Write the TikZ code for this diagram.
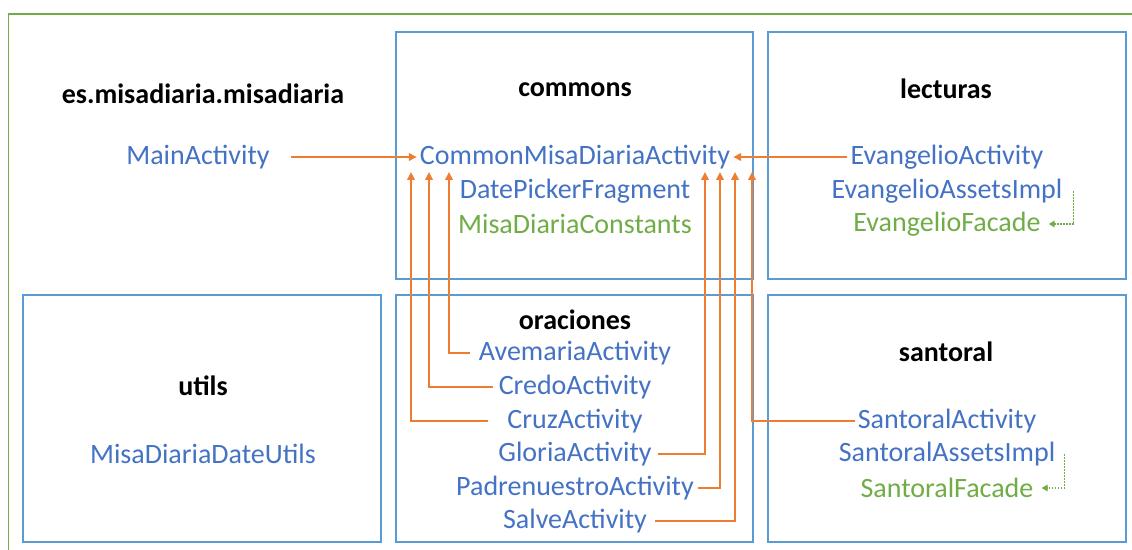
\documentclass[tikz,border=0pt]{standalone}
\usepackage{fontspec}
\setmainfont{Carlito}
\usetikzlibrary{arrows.meta}
\definecolor{tblue}{HTML}{4472C4}
\definecolor{bblue}{HTML}{5B9BD5}
\definecolor{tgreen}{HTML}{70AD47}
\definecolor{torange}{HTML}{ED7D31}
\begin{document}
\begin{tikzpicture}[x=1bp,y=-1bp,
  pkgbox/.style={draw=bblue,line width=1.6bp},
  frame/.style={draw=tgreen,line width=1.6bp},
  ttl/.style={font=\fontsize{28bp}{33bp}\selectfont\bfseries,text=black,inner sep=0pt},
  cls/.style={font=\fontsize{28bp}{33bp}\selectfont,text=tblue,inner sep=0pt},
  ifc/.style={font=\fontsize{28bp}{33bp}\selectfont,text=tgreen,inner sep=0pt},
  dep/.style={draw=torange,line width=2.2bp,-{Triangle[length=8bp,width=7.5bp]}},
  impl/.style={draw=tgreen,line width=1.8bp,dash pattern=on 1.6bp off 1.4bp,-{Triangle[length=6bp,width=6.5bp]}}]
\useasboundingbox (0,0) rectangle (1132,550);
\fill[white] (0,0) rectangle (1132,550);
% outer frame
\draw[frame] (8.5,14) rectangle (1145,565);
% package boxes
\draw[pkgbox] (396,32) rectangle (753,279);
\draw[pkgbox] (768,32) rectangle (1126,279);
\draw[pkgbox] (23,295) rectangle (381,542);
\draw[pkgbox] (396,295) rectangle (753,542);
\draw[pkgbox] (768,295) rectangle (1126,542);
% titles
\node[ttl] (tmain) at (203,94) {es.misadiaria.misadiaria};
\node[ttl] (tcommons) at (575,90) {commons};
\node[ttl] (tlect) at (946,89) {lecturas};
\node[ttl] (tutils) at (203,386) {utils};
\node[ttl] (torac) at (575,320) {oraciones};
\node[ttl] (tsant) at (946,352) {santoral};
% classes
\node[cls] (main) at (198,157) {MainActivity};
\node[cls] (cmda) at (575,157) {CommonMisaDiariaActivity};
\node[cls] (dpf) at (575,191) {DatePickerFragment};
\node[ifc] (mdc) at (575,224) {MisaDiariaConstants};
\node[cls] (ea) at (947,157) {EvangelioActivity};
\node[cls] (eai) at (947,191) {EvangelioAssetsImpl};
\node[ifc] (ef) at (947,224) {EvangelioFacade};
\node[cls] (mddu) at (203,454) {MisaDiariaDateUtils};
\node[cls] (ave) at (575,353) {AvemariaActivity};
\node[cls] (credo) at (575,387) {CredoActivity};
\node[cls] (cruz) at (575,421) {CruzActivity};
\node[cls] (gloria) at (575,454) {GloriaActivity};
\node[cls] (padre) at (575,488) {PadrenuestroActivity};
\node[cls] (salve) at (575,521) {SalveActivity};
\node[cls] (sa) at (947,421) {SantoralActivity};
\node[cls] (sai) at (947,454) {SantoralAssetsImpl};
\node[ifc] (sf) at (947,488) {SantoralFacade};
% arrow targets below CommonMisaDiariaActivity
\coordinate (tcruz) at (411,172);
\coordinate (tcredo) at (429,172);
\coordinate (tave) at (449,172);
\coordinate (tgloria) at (705,172);
\coordinate (tpadre) at (720,172);
\coordinate (tsalve) at (735,172);
\coordinate (tsa) at (752,172);
% dependencies
\draw[dep] ([xshift=21bp]main.east) -- ([xshift=-3bp]cmda.west);
\draw[dep] ([xshift=-3bp]ea.west) -- ([xshift=3bp]cmda.east);
\draw[dep] ([xshift=-9bp]ave.west) -| (tave);
\draw[dep] ([xshift=-6bp]credo.west) -| (tcredo);
\draw[dep] ([xshift=-19bp]cruz.west) -| (tcruz);
\draw[dep] ([xshift=6bp]gloria.east) -| (tgloria);
\draw[dep] ([xshift=4bp]padre.east) -| (tpadre);
\draw[dep] ([xshift=8bp]salve.east) -| (tsalve);
\draw[dep] ([xshift=-3bp]sa.west) -| (tsa);
% implementations
\draw[impl] ([xshift=11bp]eai.east) |- ([xshift=8bp]ef.east);
\draw[impl] ([xshift=9bp]sai.east) |- ([xshift=8bp]sf.east);
\end{tikzpicture}
\end{document}
